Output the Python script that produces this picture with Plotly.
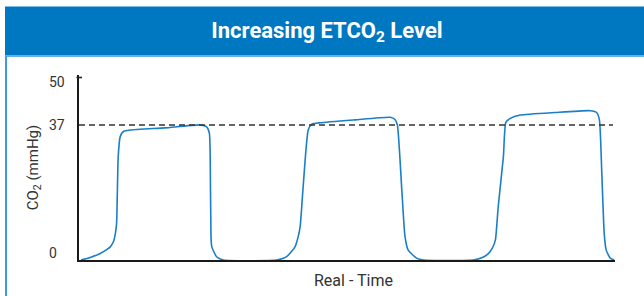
import plotly.graph_objects as go

# ---- data ----
time_s = [0.05, 0.28, 0.53, 0.70, 0.78, 0.86, 0.91, 0.94, 0.98, 1.03, 1.11, 1.28, 2.15, 3.03, 3.19, 3.26,
          3.28, 3.30, 3.32, 3.44, 3.61, 4.94,
          5.19, 5.40, 5.48, 5.53, 5.61, 5.73, 5.82, 6.03, 6.90, 7.78, 7.90, 7.96,
          8.07, 8.15, 8.23, 8.44, 8.61, 9.86,
          10.07, 10.22, 10.34, 10.41, 10.48, 10.61, 10.67, 10.78, 11.03, 11.90, 12.78, 12.94, 13.01,
          13.07, 13.13, 13.18, 13.28, 13.38]
co2_mmhg = [0.0, 0.7, 1.8, 2.9, 3.6, 5.0, 7.3, 10.1, 28.3, 33.8, 35.2, 35.6, 36.2, 37.0, 36.5, 34.7,
            28.3, 6.4, 3.6, 0.9, 0.0, 0.0,
            0.9, 3.6, 6.4, 9.3, 21.0, 35.6, 37.2, 37.6, 38.4, 39.1, 38.5, 37.0,
            19.2, 6.4, 2.7, 0.5, 0.0, 0.0,
            0.6, 1.6, 3.4, 5.5, 14.6, 28.3, 37.7, 38.8, 39.7, 40.4, 40.9, 40.4, 38.4,
            23.8, 7.3, 2.7, 0.5, 0.0]
reference_level = 37
y_tick_values = [50, 37, 0]
y_tick_labels = ["50", "37", "0"]
x_range = [0, 13.4]
y_range = [0, 50.68]

# ---- layout geometry (pixels) ----
W, H = 644, 296
L, R, T, B = 79, 615, 75, 260


def px2x(px):
    return (px - L) / (R - L)


def py2y(py):
    return (B - py) / (B - T)


fig = go.Figure()
fig.add_trace(go.Scatter(
    x=time_s, y=co2_mmhg, mode="lines",
    line=dict(color="#1a7fc8", width=1.6, shape="spline", smoothing=0.5),
    cliponaxis=False, showlegend=False, hoverinfo="skip",
))

shapes = [
    # header band
    dict(type="rect", xref="paper", yref="paper", x0=px2x(5), x1=px2x(645),
         y0=py2y(55), y1=py2y(6.5), fillcolor="#0077c1", line=dict(width=0), layer="below"),
    # light line under header
    dict(type="line", xref="paper", yref="paper", x0=px2x(5), x1=px2x(645),
         y0=py2y(56), y1=py2y(56), line=dict(color="#66b0e4", width=2)),
    # left border of box
    dict(type="line", xref="paper", yref="paper", x0=px2x(6), x1=px2x(6),
         y0=py2y(56), y1=py2y(297), line=dict(color="#3f9be0", width=2)),
    # reference dashed line
    dict(type="line", xref="paper", yref="y", x0=0, x1=px2x(613),
         y0=reference_level, y1=reference_level,
         line=dict(color="#333333", width=1.5, dash="6px,4px")),
    # small cap tick at top of y axis
    dict(type="line", xref="paper", yref="y", x0=px2x(76.5), x1=px2x(82),
         y0=y_tick_values[0], y1=y_tick_values[0], line=dict(color="#222222", width=1.6)),
]

label_shift = {"50": -5, "37": 0, "0": 7}
annotations = []
for v, t in zip(y_tick_values, y_tick_labels):
    annotations.append(dict(x=0, xref="paper", y=v, yref="y", text=t, showarrow=False,
                            xanchor="left", yanchor="middle", xshift=-32, yshift=label_shift[t],
                            font=dict(family="Roboto", size=14, color="#333333")))
annotations.append(dict(x=0.5, xref="paper", y=py2y(280), yref="paper",
                        text="Real - Time", showarrow=False, xanchor="center",
                        yanchor="middle", xshift=6,
                        font=dict(family="Roboto", size=16, color="#333333")))

fig.update_layout(
    width=W, height=H,
    margin=dict(l=L, r=W - R, t=T, b=H - B, pad=0),
    paper_bgcolor="white", plot_bgcolor="white",
    title=dict(text="<b>Increasing ETCO<sub>2</sub> Level</b>", x=327 / W, xanchor="center",
               y=1 - 30 / H, yanchor="middle", yref="container",
               font=dict(family="Roboto", size=22, color="white")),
    shapes=shapes, annotations=annotations,
    xaxis=dict(range=x_range, showgrid=False, zeroline=False, showline=True,
               linecolor="#1a1a1a", linewidth=1.6, showticklabels=False, ticks="",
               layer="below traces", fixedrange=True),
    yaxis=dict(range=y_range, showgrid=False, zeroline=False, showline=True,
               linecolor="#1a1a1a", linewidth=1.6, showticklabels=False, ticks="",
               layer="below traces", fixedrange=True,
               title=dict(text="CO<sub>2</sub> (mmHg)", standoff=35,
                          font=dict(family="Roboto", size=15, color="#333333"))),
)

fig.write_html("out.html", config={"displayModeBar": False},
               post_script="document.body.style.margin='0';document.body.style.overflow='hidden';")
